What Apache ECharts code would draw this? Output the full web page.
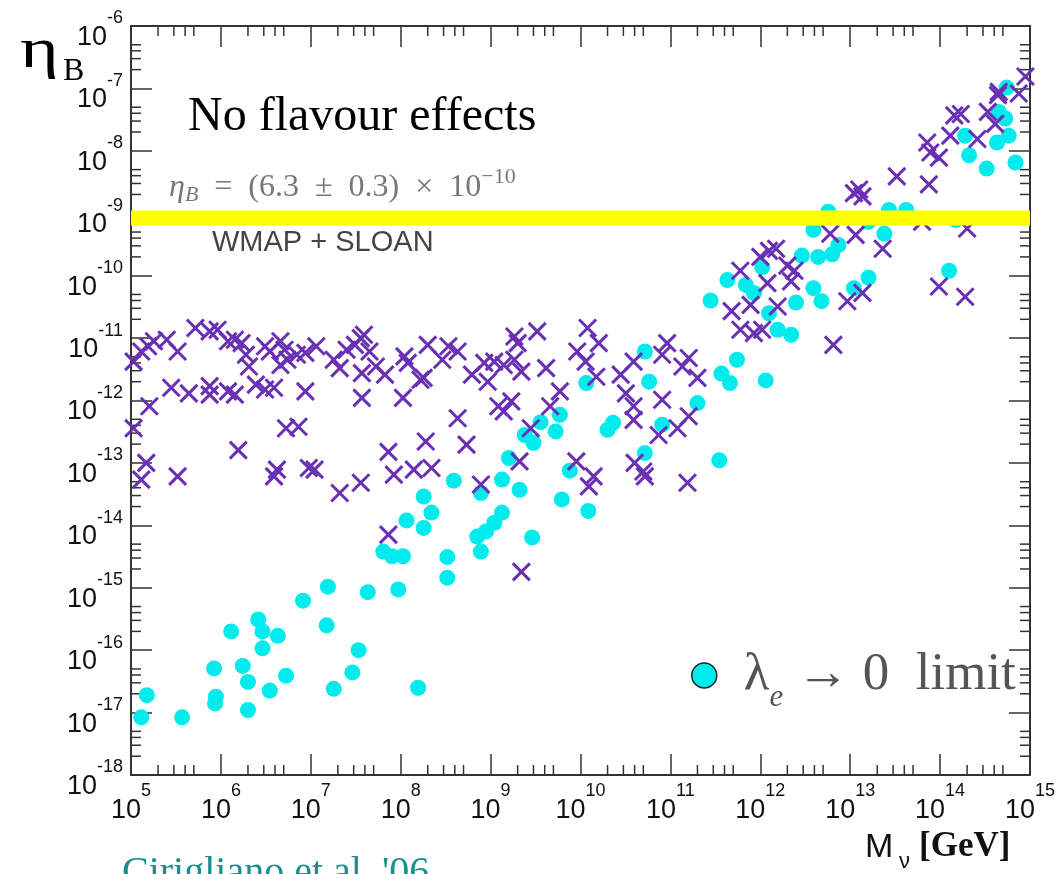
<!DOCTYPE html>
<html>
<head>
<meta charset="utf-8">
<script src="https://cdn.jsdelivr.net/npm/echarts@6/dist/echarts.min.js"></script>
<style>html,body{margin:0;padding:0;background:#fff;}#chart{width:1058px;height:874px;}</style>
</head>
<body>
<div id="chart"></div>
<script>
// ---- Data: [M_nu (GeV), eta_B] ----
const limitPoints = [ // cyan dots, lambda_e -> 0 limit
  [1.3e5, 8.4e-18],[1.5e5, 1.9e-17],[3.7e5, 8.4e-18],[8.4e5, 5.1e-17],[8.8e5, 1.8e-17],[8.6e5, 1.4e-17],
  [1.3e6, 2.0e-16],[1.75e6, 5.6e-17],[2.0e6, 3.1e-17],[2.0e6, 1.1e-17],[2.6e6, 3.1e-16],[2.9e6, 2.0e-16],
  [2.9e6, 1.07e-16],[3.5e6, 2.25e-17],[4.3e6, 1.7e-16],[5.3e6, 3.9e-17],[8.2e6, 6.2e-16],[1.5e7, 2.5e-16],
  [1.55e7, 1.04e-15],[1.8e7, 2.4e-17],[2.9e7, 4.4e-17],[3.4e7, 1.0e-16],[4.3e7, 8.5e-16],[9.4e7, 9.4e-16],
  [1.56e8, 2.5e-17],[3.3e8, 1.45e-15],
  [3.6e9, 4.5e-13],[2.4e9, 2.8e-13],[3.0e9, 2.1e-13],[1.6e9, 1.2e-13],[1.34e9, 5.4e-14],[2.1e9, 3.7e-14],
  [3.9e8, 5.2e-14],[1.8e8, 2.9e-14],[7.8e8, 3.3e-14],[2.2e8, 1.6e-14],[1.16e8, 1.2e-14],[1.8e8, 9.1e-15],
  [1.34e9, 1.6e-14],[1.1e9, 1.1e-14],[8.9e8, 8.0e-15],[7.1e8, 6.6e-15],[7.8e8, 3.8e-15],[2.9e9, 6.4e-15],
  [6.4e7, 3.8e-15],[8.0e7, 3.2e-15],[1.06e8, 3.2e-15],[3.3e8, 3.1e-15],
  [2.8e11, 4.0e-11],[4.3e11, 8.5e-11],[6.9e11, 7.1e-11],[8.5e11, 5.3e-11],[1.25e12, 2.5e-11],[1.56e12, 1.36e-11],
  [2.2e12, 1.13e-11],[2.5e12, 3.7e-11],[3.9e12, 6.3e-11],[4.8e12, 3.9e-11],[1.1e13, 6.3e-11],[1.6e13, 9.3e-11],
  [5.2e10, 6.1e-12],[5.8e10, 2.0e-12],[1.16e10, 1.9e-12],[5.5e11, 4.5e-12],[3.7e11, 2.7e-12],[4.6e11, 1.9e-12],
  [1.15e12, 2.1e-12],[2.0e11, 9.1e-13],[5.9e9, 5.9e-13],[5.3e9, 3.2e-13],[2.3e10, 4.4e-13],[2.0e10, 3.4e-13],
  [8.1e10, 4.1e-13],[5.2e10, 1.44e-13],[3.5e11, 1.1e-13],[7.6e9, 7.5e-14],[6.2e9, 2.6e-14],[1.22e10, 1.7e-14],
  [5.5e14, 1.03e-7],[4.5e14, 4.2e-8],[5.3e14, 3.3e-8],[5.8e14, 1.75e-8],[4.3e14, 1.36e-8],[1.9e14, 1.75e-8],
  [2.1e14, 8.5e-9],[3.3e14, 5.2e-9],[6.9e14, 6.5e-9],[5.7e12, 1.06e-9],[2.7e13, 1.13e-9],[4.2e13, 1.13e-9],
  [1.6e13, 7.3e-10],[2.4e13, 4.7e-10],[1.5e14, 7.8e-10],[3.9e12, 5.4e-10],[7.4e12, 3.1e-10],[6.3e12, 2.2e-10],
  [4.4e12, 2.0e-10],[2.9e12, 2.1e-10],[1.05e12, 1.36e-10],[1.26e14, 1.2e-10]
];
const flavourPoints = [ // purple crosses
  [1.07e5, 4.2e-12],[1.3e5, 6.1e-12],[1.55e5, 7.4e-12],[1.8e5, 8.9e-12],[2.5e5, 9.4e-12],[3.3e5, 6.1e-12],
  [5.2e5, 1.45e-11],[7.5e5, 1.28e-11],[9.2e5, 1.36e-11],[1.2e6, 8.9e-12],[1.43e6, 9.4e-12],[1.7e6, 8.3e-12],
  [1.9e6, 5.4e-12],[2.05e6, 3.5e-12],[3.1e6, 7.4e-12],[3.5e6, 6.1e-12],[4.6e6, 8.9e-12],[5.1e6, 6.5e-12],
  [5.5e6, 4.5e-12],[4.6e6, 3.7e-12],[7.0e6, 5.4e-12],[8.7e6, 5.8e-12],[1.15e7, 7.4e-12],[1.8e7, 4.5e-12],
  [2.1e7, 3.3e-12],[2.5e7, 6.5e-12],[3.1e7, 7.8e-12],[3.6e7, 1.0e-11],[3.9e7, 1.13e-11],[4.5e7, 6.1e-12],
  [3.7e7, 2.75e-12],[5.3e7, 3.5e-12],[6.7e7, 2.6e-12],[1.1e8, 5.1e-12],[1.2e8, 4.0e-12],[1.8e8, 2.3e-12],
  [1.66e8, 2.15e-12],[2.0e8, 7.8e-12],[2.9e8, 4.5e-12],[3.4e8, 7.4e-12],[4.3e8, 6.1e-12],[6.2e8, 2.6e-12],
  [8.5e8, 4.0e-12],[9.3e8, 2.0e-12],[1.1e9, 4.2e-12],[1.4e9, 3.7e-12],[1.84e9, 1.06e-11],[2.0e9, 8.3e-12],
  [1.84e9, 4.5e-12],[2.2e9, 2.9e-12],[3.3e9, 1.28e-11],[4.15e9, 3.3e-12],
  [2.8e5, 1.6e-12],[4.4e5, 1.3e-12],[7.5e5, 1.7e-12],[7.5e5, 1.24e-12],[1.2e6, 1.4e-12],[1.43e6, 1.24e-12],
  [2.45e6, 1.8e-12],[3.1e6, 1.5e-12],[3.9e6, 1.6e-12],[8.7e6, 1.4e-12],[3.7e7, 1.1e-12],[1.06e8, 1.1e-12],
  [1.6e5, 8.1e-13],[1.22e9, 8.1e-13],[1.7e9, 9.7e-13],[1.4e9, 6.7e-13],
  [1.07e5, 3.6e-13],[5.3e6, 3.6e-13],[7.3e6, 3.8e-13],[1.56e6, 1.6e-13],[4.3e8, 5.2e-13],[1.9e8, 2.2e-13],
  [5.4e8, 1.96e-13],[7.3e7, 1.5e-13],[2.1e9, 1.06e-13],
  [1.48e5, 1.0e-13],[1.3e5, 5.4e-14],[3.3e5, 6.1e-14],[4.2e6, 7.8e-14],[3.9e6, 6.1e-14],[9.5e6, 8.3e-14],
  [1.1e7, 7.8e-14],[8.4e7, 6.5e-14],[1.4e8, 7.8e-14],[2.2e8, 8.3e-14],[3.6e7, 4.8e-14],[2.1e7, 3.3e-14],
  [7.8e8, 4.5e-14],[7.3e7, 7.1e-15],[2.2e9, 1.8e-15],
  [9.7e13, 6.7e-11],[1.9e14, 4.6e-11],[9.3e12, 3.9e-11],[1.37e13, 5.3e-11],[4.8e11, 2.7e-11],[7.8e11, 3.4e-11],
  [1.56e12, 3.2e-11],[6.0e11, 1.36e-11],[8.5e11, 1.2e-11],[1.05e12, 1.36e-11],[1.2e12, 7.6e-11],[2.2e12, 8.1e-11],
  [6.5e12, 7.8e-12],[5.9e9, 1.4e-12],[1.2e10, 1.45e-11],[1.6e10, 8.3e-12],[9.2e9, 6.1e-12],[1.14e10, 4.2e-12],
  [1.5e10, 2.4e-12],[4.6e9, 8.1e-13],[2.8e9, 3.6e-13],[9.0e9, 1.06e-13],[1.4e10, 6.1e-14],[1.24e10, 4.2e-14],
  [3.9e10, 4.2e-12],[2.8e10, 2.6e-12],[3.2e10, 1.3e-12],[3.9e10, 8.1e-13],[3.9e10, 4.9e-13],[8.1e10, 5.4e-12],
  [9.2e10, 8.3e-12],[1.36e11, 3.5e-12],[1.6e11, 4.8e-12],[2.0e11, 2.3e-12],[8.1e10, 1.03e-12],[7.4e10, 2.8e-13],
  [1.2e11, 3.6e-13],[1.6e11, 5.6e-13],[4.0e10, 1.0e-13],[5.0e10, 7.3e-14],[5.2e10, 6.1e-14],[1.55e11, 4.8e-14],
  [8.9e14, 1.55e-7],[7.5e14, 8.3e-8],[4.5e14, 8.8e-8],[4.4e14, 7.8e-8],[3.4e14, 4.2e-8],[1.7e14, 3.9e-8],
  [1.44e14, 3.7e-8],[2.6e14, 1.55e-8],[1.3e14, 1.75e-8],[7.2e13, 1.36e-8],[7.8e13, 9.4e-9],[9.7e13, 7.8e-9],
  [4.1e14, 2.7e-8],[3.3e13, 3.9e-9],[7.5e13, 2.9e-9],[6.3e13, 7.3e-10],[2.0e14, 5.7e-10],[1.1e13, 2.1e-9],
  [1.37e13, 1.86e-9],[1.26e13, 2.4e-9],[1.15e13, 4.5e-10],[6.0e12, 4.7e-10],[2.3e13, 2.7e-10],[1.25e12, 2.5e-10],
  [1.5e12, 2.7e-10],[2.0e12, 1.45e-10],[2.4e12, 1.2e-10],[6.0e11, 1.2e-10],[1.0e12, 2.0e-10]
];
const wmapBand = [[1e5, 8.4e-10], [1e15, 8.4e-10]];   // yellow WMAP + SLOAN band
const xRange = [1e5, 1e15];
const yRange = [1e-18, 1e-6];
const minorMultipliers = [2, 3, 4, 5];
const xDecades = [5,6,7,8,9,10,11,12,13,14];
const yDecades = [-18,-17,-16,-15,-14,-13,-12,-11,-10,-9,-8,-7];

const xMinor = [];
xDecades.forEach(e => minorMultipliers.forEach(m => xMinor.push([m * Math.pow(10, e), yRange[0]])));
const yMinor = [];
yDecades.forEach(e => minorMultipliers.forEach(m => yMinor.push([xRange[0], m * Math.pow(10, e)])));

const AX = '#333';
const labelRich = {
  b: {fontSize: 27, fontFamily: 'Liberation Sans', color: '#111', padding: [23, 0, 0, 0]},
  s: {fontSize: 18, fontFamily: 'Liberation Sans', color: '#111', padding: [0, 0, 15, 0]}
};
const expFmt = v => '{b|10}{s|' + Math.round(Math.log10(v)) + '}';

const baseAxis = {
  type: 'log', logBase: 10, interval: 1,
  axisLine: {lineStyle: {color: AX, width: 2}},
  axisTick: {inside: true, length: 21, lineStyle: {color: AX, width: 1.5}},
  splitLine: {show: false}
};

const chart = echarts.init(document.getElementById('chart'), null, {renderer: 'canvas'});
chart.setOption({
  animation: false,
  backgroundColor: '#fff',
  grid: {left: 131, right: 19, top: 26, bottom: 99, containLabel: false},
  xAxis: [
    Object.assign({}, baseAxis, {min: xRange[0], max: xRange[1], splitNumber: 10, position: 'bottom',
      axisLabel: {margin: -1, interval: 0, formatter: expFmt, rich: labelRich, showMinLabel: true, showMaxLabel: true, hideOverlap: false}}),
    Object.assign({}, baseAxis, {min: xRange[0], max: xRange[1], splitNumber: 10, position: 'top',
      axisLabel: {show: false}})
  ],
  yAxis: [
    Object.assign({}, baseAxis, {min: yRange[0], max: yRange[1], splitNumber: 12, position: 'left',
      axisLabel: {margin: 8, interval: 0, formatter: expFmt, rich: labelRich, align: 'right', showMinLabel: true, showMaxLabel: true, hideOverlap: false}}),
    Object.assign({}, baseAxis, {min: yRange[0], max: yRange[1], splitNumber: 12, position: 'right',
      axisLabel: {show: false}})
  ],
  legend: {
    show: true, selectedMode: false, left: 691, top: 649, padding: 0, itemGap: 0,
    itemWidth: 25, itemHeight: 25,
    data: [{name: 'λe → 0 limit', icon: 'circle'}],
    itemStyle: {color: '#00ecec', borderColor: '#222', borderWidth: 1.5},
    formatter: () => '{l|λ}{e|e}{a| → 0  limit}',
    textStyle: {
      rich: {
        l: {fontSize: 53, fontFamily: 'Liberation Serif', color: '#555', padding: [0, 0, 0, 22]},
        e: {fontSize: 31, fontFamily: 'Liberation Serif', fontStyle: 'italic', color: '#555', padding: [44, 0, 0, 0]},
        a: {fontSize: 53, fontFamily: 'Liberation Serif', color: '#555'}
      }
    }
  },
  series: [
    {type: 'custom', name: 'xminor', silent: true, clip: false, xAxisIndex: 0, yAxisIndex: 0, z: 1,
     data: xMinor,
     renderItem: (params, api) => {
       const v = api.value(0);
       const b = api.coord([v, yRange[0]]);
       const t = api.coord([v, yRange[1]]);
       const st = {stroke: AX, lineWidth: 1.5};
       return {type: 'group', children: [
         {type: 'line', shape: {x1: b[0], y1: b[1], x2: b[0], y2: b[1] - 10}, style: st},
         {type: 'line', shape: {x1: t[0], y1: t[1], x2: t[0], y2: t[1] + 10}, style: st}
       ]};
     }},
    {type: 'custom', name: 'yminor', silent: true, clip: false, xAxisIndex: 0, yAxisIndex: 0, z: 1,
     data: yMinor,
     renderItem: (params, api) => {
       const v = api.value(1);
       const l = api.coord([xRange[0], v]);
       const r = api.coord([xRange[1], v]);
       const st = {stroke: AX, lineWidth: 1.5};
       return {type: 'group', children: [
         {type: 'line', shape: {x1: l[0], y1: l[1], x2: l[0] + 10, y2: l[1]}, style: st},
         {type: 'line', shape: {x1: r[0], y1: r[1], x2: r[0] - 10, y2: r[1]}, style: st}
       ]};
     }},
    {type: 'scatter', name: 'λe → 0 limit', xAxisIndex: 0, yAxisIndex: 0, z: 2,
     symbol: 'circle', symbolSize: 16, data: limitPoints,
     itemStyle: {color: '#00ecec', opacity: 1}},
    {type: 'scatter', name: 'flavour', xAxisIndex: 0, yAxisIndex: 0, z: 3,
     symbol: 'path://M0,0L10,10M0,10L10,0', symbolSize: 17, data: flavourPoints,
     itemStyle: {color: 'rgba(0,0,0,0)', borderColor: '#6a30b3', borderWidth: 3, opacity: 1}},
    {type: 'line', name: 'wmap', xAxisIndex: 0, yAxisIndex: 0, z: 5, silent: true,
     data: wmapBand, symbol: 'none', showSymbol: false,
     lineStyle: {color: '#ffff00', width: 15, type: 'solid', cap: 'butt', opacity: 1},
     emphasis: {disabled: true}}
  ],
  graphic: [
    {type: 'text', x: 20, y: 52, scaleX: 1.28, z: 10,
     style: {text: 'η', font: '58px "Liberation Serif"', fill: '#000', align: 'left', verticalAlign: 'middle'}},
    {type: 'text', x: 63, y: 72, z: 10,
     style: {text: 'B', font: '32px "Liberation Serif"', fill: '#000', align: 'left', verticalAlign: 'middle'}},
    {type: 'text', x: 188, y: 117, z: 10,
     style: {text: 'No flavour effects', font: '48px "Liberation Serif"', fill: '#000', align: 'left', verticalAlign: 'middle'}},
    {type: 'text', x: 169, y: 188, z: 10,
     style: {text: '{i|η}{b|B}{n|\u2002=\u2002(6.3\u2002±\u20020.3)\u2002×\u200210}{s|−10}',
       align: 'left', verticalAlign: 'middle',
       rich: {
         i: {fontSize: 32, fontFamily: 'Liberation Serif', fontStyle: 'italic', fill: '#777'},
         b: {fontSize: 22, fontFamily: 'Liberation Serif', fontStyle: 'italic', fill: '#777', padding: [14, 0, 0, 0]},
         n: {fontSize: 32, fontFamily: 'Liberation Serif', fill: '#777'},
         s: {fontSize: 22, fontFamily: 'Liberation Serif', fill: '#777', padding: [0, 0, 22, 0]}
       }}},
    {type: 'text', x: 212, y: 243, z: 10,
     style: {text: 'WMAP + SLOAN', font: '29px "Liberation Sans"', fill: '#444', align: 'left', verticalAlign: 'middle'}},
    {type: 'text', x: 865, y: 848, z: 10,
     style: {text: 'M', font: '34px "Liberation Sans"', fill: '#111', align: 'left', verticalAlign: 'middle'}},
    {type: 'text', x: 899, y: 862, z: 10,
     style: {text: 'ν', font: '22px "Liberation Sans"', fill: '#111', align: 'left', verticalAlign: 'middle'}},
    {type: 'text', x: 919, y: 847, z: 10,
     style: {text: '[GeV]', font: 'bold 35px "Liberation Serif"', fill: '#111', align: 'left', verticalAlign: 'middle'}},
    {type: 'text', x: 122, y: 873, z: 10,
     style: {text: "Cirigliano et al. '06", font: '40px "Liberation Serif"', fill: '#1a8f8f', align: 'left', verticalAlign: 'middle'}}
  ]
});
</script>
</body>
</html>
